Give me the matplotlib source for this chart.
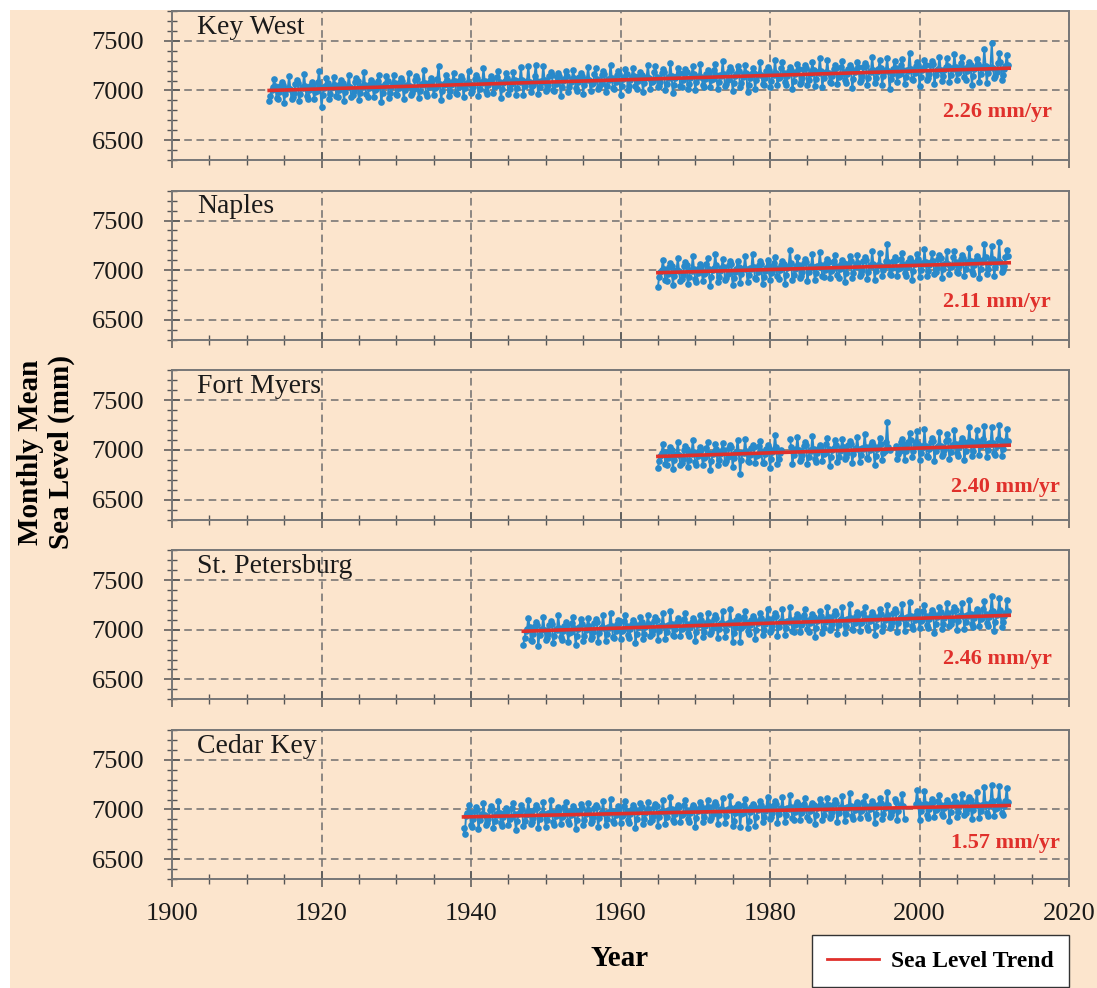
# -*- coding: utf-8 -*-
"""Nivel medio del mar en 5 estaciones de Florida, con tendencia lineal."""
import numpy as np
import matplotlib
matplotlib.use("Agg")
import matplotlib.pyplot as plt
from matplotlib.ticker import MultipleLocator
from matplotlib.lines import Line2D
from matplotlib.patches import Rectangle

nan = np.nan
W, H = 1097, 988
PEACH = "#FCE5CD"; BLUE = "#2889CA"; RED = "#E0302B"; GRID = "#6E6E6E"
plt.rcParams.update({"font.family": "serif", "font.serif": ["Liberation Serif", "DejaVu Serif"]})

# estaciones, inicio de la serie (valores bimestrales: 6 por año) y tendencias
stations = ["Key West", "Naples", "Fort Myers", "St. Petersburg", "Cedar Key"]
start_year = [1913, 1965, 1965, 1947, 1939]
rates = ["2.26 mm/yr", "2.11 mm/yr", "2.40 mm/yr", "2.46 mm/yr", "1.57 mm/yr"]
trend_from = [1913.0, 1965.0, 1965.0, 1947.0, 1939.0]
trend_to = [2012.0, 2012.0, 2012.0, 2012.0, 2012.0]
trend_v0 = [7000, 6975, 6935, 6985, 6925]
trend_v1 = [7224, 7075, 7048, 7145, 7040]

key_west = [
    6890, 6940, 7000, 7030, 7120, 7040, 6920, 6910, 6980, 7050, 7090, 7060,
    6875, 6965, 7015, 7025, 7145, 7015, 6915, 6935, 6975, 7065, 7105, 7075,
    6890, 6960, 7030, 7020, 7170, 7040, 6940, 6910, 7000, 7050, 7090, 7060,
    6915, 6985, 6995, 7085, 7200, 7035, 6830, 6955, 7025, 7045, 7125, 7075,
    6910, 6960, 7020, 7050, 7140, 7060, 6940, 6930, 7000, 7070, 7110, 7080,
    6895, 6985, 7035, 7045, 7160, 7035, 6935, 6955, 6995, 7085, 7125, 7095,
    6905, 6975, 7045, 7035, 7185, 7055, 6960, 6930, 7020, 7070, 7110, 7080,
    6930, 7000, 7010, 7100, 7160, 7050, 6885, 6975, 7045, 7065, 7145, 7095,
    6925, 6975, 7035, 7065, 7155, 7075, 6960, 6950, 7020, 7090, 7130, 7100,
    6910, 7000, 7050, 7060, 7180, 7050, 6955, 6975, 7015, 7105, 7145, 7115,
    6925, 6995, 7065, 7055, 7205, 7075, 6975, 6945, 7035, 7085, 7125, 7095,
    6950, 7020, 7030, 7120, 7250, 7070, 6900, 6990, 7060, 7080, 7160, 7110,
    6945, 6995, 7055, 7085, 7175, 7095, 6975, 6965, 7035, 7105, 7145, 7115,
    6930, 7020, 7070, 7080, 7200, 7070, 6970, 6990, 7030, 7120, 7160, 7130,
    6945, 7015, 7085, 7075, 7225, 7095, 6995, 6965, 7055, 7105, 7145, 7115,
    6970, 7040, 7050, 7140, 7200, 7090, 6920, 7010, 7080, 7100, 7180, 7130,
    6960, 7010, 7070, 7100, 7190, 7110, 6955, 7025, 7095, 7085, 7235, 7105,
    6950, 7040, 7090, 7100, 7250, 7090, 6980, 7050, 7060, 7150, 7260, 7100,
    6960, 7030, 7100, 7090, 7250, 7110, 6995, 7015, 7055, 7145, 7185, 7155,
    7005, 6995, 7065, 7135, 7175, 7145, 6940, 7030, 7100, 7120, 7200, 7150,
    6980, 7030, 7090, 7120, 7210, 7130, 7025, 6995, 7085, 7135, 7175, 7145,
    6965, 7055, 7105, 7115, 7235, 7105, 6995, 7065, 7075, 7165, 7225, 7115,
    7010, 7030, 7070, 7160, 7200, 7170, 6980, 7050, 7120, 7110, 7260, 7130,
    7025, 7015, 7085, 7155, 7195, 7165, 6955, 7045, 7115, 7135, 7215, 7165,
    7000, 7050, 7110, 7140, 7230, 7150, 7040, 7010, 7100, 7150, 7190, 7160,
    6985, 7075, 7125, 7135, 7255, 7125, 7015, 7085, 7095, 7185, 7245, 7135,
    7030, 7050, 7090, 7180, 7220, 7190, 7000, 7070, 7140, 7130, 7280, 7150,
    6970, 7060, 7130, 7150, 7230, 7180, 7045, 7035, 7105, 7175, 7215, 7185,
    7015, 7065, 7125, 7155, 7245, 7165, 7000, 7090, 7140, 7150, 7270, 7140,
    7060, 7030, 7120, 7170, 7210, 7180, 7035, 7105, 7115, 7205, 7265, 7155,
    7015, 7085, 7155, 7145, 7295, 7165, 7050, 7070, 7110, 7200, 7240, 7210,
    6990, 7080, 7150, 7170, 7250, 7200, 7030, 7080, 7140, 7170, 7260, 7180,
    6980, 7060, 7125, 7170, 7230, 7180, 7015, 7105, 7155, 7165, 7285, 7155,
    7070, 7060, 7130, 7200, 7240, 7210, 7030, 7100, 7170, 7160, 7310, 7180,
    7055, 7125, 7135, 7225, 7285, 7175, 7085, 7055, 7145, 7195, 7235, 7205,
    7010, 7100, 7170, 7190, 7270, 7220, 7070, 7090, 7130, 7220, 7260, 7230,
    7055, 7105, 7165, 7195, 7285, 7205, 7045, 7115, 7185, 7175, 7325, 7195,
    7035, 7125, 7175, 7185, 7305, 7175, 7090, 7080, 7150, 7220, 7260, 7230,
    7070, 7140, 7150, 7240, 7300, 7190, 7105, 7075, 7165, 7215, 7255, 7225,
    7025, 7115, 7185, 7205, 7285, 7235, 7090, 7110, 7150, 7240, 7280, 7250,
    7060, 7130, 7200, 7190, 7340, 7210, 7075, 7125, 7185, 7215, 7305, 7225,
    7055, 7145, 7195, 7205, 7325, 7195, 7010, 7120, 7170, 7220, 7300, 7230,
    7090, 7160, 7170, 7260, 7320, 7210, 7070, 7140, 7210, 7200, 7380, 7220,
    7115, 7105, 7175, 7245, 7285, 7255, 7045, 7135, 7205, 7225, 7305, 7255,
    7110, 7130, 7170, 7260, 7300, 7270, 7070, 7160, 7210, 7220, 7340, 7210,
    7095, 7145, 7205, 7235, 7325, 7245, 7085, 7155, 7225, 7215, 7365, 7235,
    7110, 7180, 7190, 7280, 7340, 7230, 7140, 7110, 7200, 7250, 7290, 7260,
    7060, 7150, 7220, 7240, 7320, 7270, 7090, 7170, 7240, 7230, 7420, 7250,
    7080, 7180, 7230, 7240, 7480, 7230, 7130, 7150, 7190, 7280, 7380, 7290,
    7110, 7160, 7220, 7250, 7360, 7260]

naples = [
    6830, 6930, 6985, 7000, 7100, 7010, 6900, 6890, 6960, 7030, 7070, 7040,
    6850, 6940, 6990, 7000, 7120, 6990, 6890, 6910, 6950, 7040, 7080, 7050,
    6865, 6935, 7005, 6995, 7140, 7015, 6915, 6885, 6975, 7025, 7065, 7035,
    6890, 6960, 6970, 7060, 7120, 7010, 6840, 6930, 7000, 7020, 7160, 7050,
    6880, 6930, 6990, 7020, 7110, 7030, 6905, 6925, 6965, 7055, 7095, 7065,
    6850, 6920, 6985, 7015, 7090, 7030, 6870, 6960, 7010, 7020, 7140, 7010,
    6880, 6950, 7020, 7010, 7160, 7030, 6925, 6915, 6985, 7055, 7095, 7065,
    6860, 6930, 6990, 7020, 7100, 7040, 6905, 6975, 6985, 7075, 7135, 7025,
    6940, 6910, 7000, 7050, 7090, 7060, 6860, 6950, 7020, 7040, 7200, 7070,
    6900, 6950, 7010, 7040, 7130, 7050, 6925, 6945, 6985, 7075, 7115, 7085,
    6890, 6980, 7030, 7040, 7160, 7030, 6900, 6970, 7040, 7030, 7180, 7050,
    6940, 6930, 7000, 7070, 7110, 7080, 6920, 6990, 7000, 7090, 7150, 7040,
    6955, 6925, 7015, 7065, 7105, 7075, 6880, 6970, 7040, 7060, 7140, 7090,
    6920, 6970, 7030, 7060, 7150, 7070, 6940, 6960, 7000, 7090, 7130, 7100,
    6915, 6985, 7055, 7045, 7195, 7065, 6905, 6995, 7045, 7055, 7175, 7045,
    6940, 7000, 7040, 7090, 7260, 7080, 6960, 6950, 7020, 7090, 7130, 7100,
    6940, 7010, 7020, 7110, 7170, 7060, 6975, 6945, 7035, 7085, 7125, 7095,
    6900, 6990, 7060, 7080, 7160, 7110, 6930, 7000, 7070, 7060, 7210, 7080,
    6940, 6990, 7050, 7080, 7170, 7090, 6960, 6980, 7020, 7110, 7150, 7120,
    6925, 7015, 7065, 7075, 7195, 7065, 6960, 7030, 7040, 7130, 7190, 7080,
    6980, 6970, 7040, 7110, 7150, 7120, 6940, 7010, 7080, 7070, 7220, 7090,
    6995, 6965, 7055, 7105, 7145, 7115, 6920, 7010, 7080, 7100, 7260, 7130,
    6960, 7010, 7070, 7100, 7240, 7110, 6940, 7030, 7080, 7090, 7280, 7080,
    6980, 7000, 7040, 7130, 7200, 7140]

fort_myers = [
    6820, 6890, 6940, 6970, 7060, 6980, 6860, 6850, 6920, 6990, 7030, 7000,
    6810, 6900, 6950, 6960, 7080, 6950, 6850, 6870, 6910, 7000, 7040, 7010,
    6825, 6895, 6965, 6955, 7100, 6975, 6875, 6845, 6935, 6985, 7025, 6995,
    6850, 6920, 6930, 7020, 7080, 6970, 6800, 6890, 6960, 6980, 7060, 7010,
    6845, 6895, 6955, 6985, 7075, 6995, 6865, 6885, 6925, 7015, 7055, 7025,
    6830, 6920, 6970, 6980, 7100, 6970, 6760, 6900, 6980, 6970, 7110, 6990,
    6885, 6875, 6945, 7015, 7055, 7025, 6865, 6935, 6945, 7035, 7095, 6985,
    6870, 6870, 6960, 7010, 7050, 7020, 6820, 6910, 6980, 7000, 7150, 7030,
    6860, 6910, 6970, 7000, nan, nan, nan, nan, nan, nan, 7110, 7030,
    6860, 6950, 7000, 7010, 7130, 7000, 6890, 6910, 6950, 7040, 7080, 7050,
    6860, 6930, 7000, 6990, 7140, 7010, 6905, 6875, 6965, 7015, 7055, 7025,
    6890, 6960, 6970, 7060, 7120, 7010, 6840, 6930, 7000, 7020, 7100, 7050,
    6880, 6930, 6990, 7020, 7110, 7030, 6905, 6925, 6965, 7055, 7095, 7065,
    6865, 6955, 7005, 7015, 7135, 7005, 6880, 6950, 7020, 7010, 7160, 7030,
    6920, 6910, 7000, 7050, 7080, 7050, 6850, 6940, 7010, 7030, 7120, 7060,
    6900, 6970, 6990, 7080, 7280, 7030, 7000, nan, nan, nan, nan, 7040,
    6910, 6960, 6990, 7080, 7110, 7060, 6900, 6990, 7060, 7080, 7170, 7100,
    6930, 6990, 7050, 7080, 7190, 7060, 6900, 6970, 7040, 7030, 7210, 7040,
    6940, 6930, 7010, 7080, 7120, 7090, 6890, 6990, 7030, 7040, 7180, 7040,
    6940, 6960, 7000, 7090, 7160, 7100, 6910, 6980, 7050, 7040, 7200, 7060,
    6970, 6940, 7030, 7080, 7120, 7090, 6900, 6990, 7060, 7080, 7230, 7090,
    6940, 6990, 7050, 7080, 7200, 7090, 6950, 7040, 7050, 7110, 7240, 7060,
    6930, 7000, 7070, 7060, 7230, 7070, 6970, 6950, 7040, 7110, 7250, 7100,
    6940, 7010, 7070, 7090, 7210, 7090]

st_petersburg = [
    6850, 6920, 6990, 7010, 7120, 7030, 6900, 6890, 6960, 7040, 7080, 7050,
    6840, 6950, 7000, 7010, 7130, 7000, 6900, 6920, 6960, 7050, 7090, 7060,
    6870, 6940, 7010, 7000, 7150, 7020, 6930, 6900, 6990, 7040, 7080, 7050,
    6880, 6970, 6980, 7070, 7130, 7020, 6850, 6940, 7010, 7030, 7110, 7060,
    6890, 6940, 7000, 7030, 7120, 7040, 6910, 6930, 6980, 7070, 7110, 7080,
    6880, 6970, 7020, 7030, 7150, 7020, 6890, 6960, 7030, 7020, 7170, 7040,
    6930, 6920, 6990, 7060, 7100, 7070, 6910, 6990, 7000, 7090, 7150, 7040,
    6950, 6920, 7010, 7060, 7100, 7070, 6870, 6960, 7030, 7050, 7130, 7080,
    6910, 6960, 7030, 7050, 7150, 7060, 6940, 6960, 7000, 7090, 7130, 7100,
    6900, 6990, 7040, 7050, 7170, 7040, 6910, 6980, 7050, 7040, 7190, 7060,
    6950, 6940, 7010, 7080, 7120, 7090, 6940, 7010, 7020, 7110, 7170, 7060,
    6970, 6940, 7030, 7080, 7120, 7090, 6890, 6980, 7050, 7070, 7150, 7100,
    6930, 6980, 7040, 7070, 7170, 7080, 6960, 6980, 7020, 7110, 7150, 7120,
    6920, 7010, 7060, 7070, 7190, 7060, 6930, 7000, 7070, 7060, 7210, 7080,
    6880, 6970, 7030, 7100, 7140, 7110, 6880, 7020, 7040, 7130, 7190, 7080,
    6990, 6960, 7050, 7100, 7140, 7110, 6910, 7000, 7070, 7090, 7170, 7120,
    6950, 7000, 7060, 7090, 7210, 7110, 6980, 7000, 7040, 7130, 7170, 7140,
    6940, 7030, 7080, 7090, 7210, 7080, 6950, 7020, 7090, 7080, 7230, 7100,
    6990, 6980, 7050, 7120, 7160, 7130, 6980, 7050, 7060, 7150, 7210, 7100,
    7010, 6980, 7070, 7120, 7160, 7130, 6930, 7020, 7090, 7110, 7190, 7140,
    6970, 7020, 7080, 7110, 7230, 7130, 7000, 7020, 7060, 7150, 7190, 7160,
    6960, 7050, 7100, 7110, 7230, 7100, 6970, 7040, 7110, 7100, 7260, 7120,
    7010, 7000, 7070, 7140, 7180, 7150, 6990, 7070, 7080, 7170, 7230, 7120,
    7030, 7000, 7090, 7140, 7180, 7150, 6950, 7040, 7110, 7130, 7210, 7160,
    6990, 7040, 7100, 7130, 7250, 7150, 7020, 7040, 7080, 7170, 7210, 7180,
    6980, 7070, 7120, 7130, 7260, 7120, 6990, 7060, 7130, 7120, 7280, 7140,
    7040, 7010, 7100, 7150, 7190, 7160, 7020, 7090, 7100, 7190, 7250, 7140,
    7050, 7020, 7110, 7160, 7200, 7170, 6970, 7060, 7130, 7150, 7230, 7180,
    7010, 7060, 7120, 7150, 7270, 7170, 7040, 7060, 7100, 7190, 7230, 7200,
    7000, 7090, 7140, 7150, 7270, 7140, 7010, 7080, 7150, 7140, 7300, 7160,
    7060, 7030, 7120, 7170, 7210, 7180, 7040, 7110, 7120, 7210, 7290, 7160,
    7070, 7040, 7130, 7180, 7340, 7190, 6990, 7080, 7150, 7170, 7320, 7200,
    7030, 7080, 7140, 7170, 7300, 7190]

cedar_key = [
    6810, 6750, 6930, 6960, 7040, 6970, 6840, 6820, 6900, 6980, 7020, 6990,
    6800, 6890, 6940, 6950, 7070, 6940, 6840, 6860, 6900, 6990, 7030, 7000,
    6810, 6880, 6950, 6940, 7090, 6960, 6860, 6830, 6920, 6970, 7010, 6980,
    6840, 6900, 6920, 7010, 7070, 6950, 6790, 6880, 6950, 6970, 7050, 7000,
    6830, 6880, 6940, 6970, 7100, 6980, 6850, 6870, 6910, 7000, 7040, 7010,
    6810, 6900, 6950, 6960, 7080, 6950, 6820, 6890, 6960, 6950, 7100, 6970,
    6870, 6840, 6930, 6980, 7020, 6990, 6850, 6920, 6930, 7020, 7080, 6970,
    6880, 6850, 6940, 6990, 7030, 7000, 6800, 6890, 6960, 6980, 7060, 7010,
    6840, 6890, 6950, 6980, 7070, 6990, 6860, 6880, 6920, 7010, 7050, 7020,
    6820, 6910, 6960, 6970, 7090, 6960, 6840, 6900, 6970, 6960, 7110, 6980,
    6880, 6860, 6940, 6990, 7030, 7000, 6860, 6930, 6940, 7030, 7090, 6980,
    6890, 6860, 6950, 7000, 7040, 7010, 6810, 6900, 6970, 6990, 7070, 7020,
    6850, 6900, 6960, 6990, 7080, 7000, 6870, 6890, 6930, 7020, 7060, 7030,
    6830, 6920, 6970, 6980, 7100, 6970, 6850, 6920, 6990, 6980, 7130, 7000,
    6890, 6870, 6950, 7010, 7050, 7020, 6870, 6940, 6950, 7040, 7100, 6990,
    6900, 6870, 6960, 7010, 7050, 7020, 6820, 6910, 6980, 7000, 7080, 7030,
    6870, 6920, 6980, 7010, 7100, 7020, 6890, 6910, 6950, 7040, 7080, 7050,
    6850, 6940, 6990, 7000, 7120, 6990, 6860, 6930, 7000, 6990, 7140, 7010,
    6830, 6880, 6960, 7020, 7060, 7030, 6820, 6950, 6960, 7050, 7110, 7000,
    6810, 6880, 6970, 7020, 7060, 7030, 6830, 6920, 6990, 7010, 7090, 7040,
    6870, 6920, 6980, 7010, 7130, 7030, 6900, 6920, 6960, 7050, 7090, 7060,
    6860, 6950, 7000, 7010, 7130, 7000, 6870, 6940, 7010, 7000, 7150, 7020,
    6910, 6890, 6970, 7040, 7080, 7050, 6890, 6960, 6970, 7060, 7120, 7010,
    6920, 6890, 6980, 7030, 7070, 7040, 6850, 6940, 7010, 7030, 7110, 7060,
    6890, 6940, 7000, 7030, 7120, 7040, 6910, 6930, 6970, 7060, 7100, 7070,
    6870, 6960, 7010, 7020, 7140, 7010, 6880, 6950, 7020, 7010, 7170, 7030,
    6930, 6900, 6990, 7040, 7080, 7050, 6910, 6980, 6990, 7080, 7140, 7030,
    6940, 6910, 7000, 7050, 7090, 7060, 6860, 6950, 7020, 7040, 7120, 7070,
    6900, 6950, 7010, 7040, 7180, 7050, 6920, 6940, 6980, nan, 7110, 7080,
    6890, 6980, 7030, 7040, 7160, 7030, 6900, nan, nan, nan, nan, nan,
    nan, nan, nan, 7060, 7200, 7080, 6890, 6980, 7050, 7040, 7190, 7060,
    6940, 6910, 7000, 7070, 7110, 7080, 6920, 6990, 7000, 7090, 7150, 7040,
    6950, 6930, 7010, 7060, 7100, 7070, 6880, 6970, 7040, 7060, 7140, 7080,
    6920, 6970, 7030, 7060, 7160, 7070, 6940, 6960, 7000, 7090, 7130, 7100,
    6900, 6990, 7040, 7050, 7180, 7040, 6910, 6980, 7050, 7040, 7230, 7060,
    6960, 6930, 7030, 7080, 7250, 7090, 6930, 7000, 7010, 7100, 7240, 7060,
    6960, 6940, 7030, 7090, 7220, 7080]

series = [key_west, naples, fort_myers, st_petersburg, cedar_key]
# posicion (ejes) de la etiqueta de tasa en cada panel
rate_pos = [(0.920, 0.32), (0.920, 0.255), (0.929, 0.215), (0.920, 0.27), (0.929, 0.24)]

fig = plt.figure(figsize=(W / 100, H / 100), dpi=100, facecolor="white")
fig.add_artist(Rectangle((10 / W, 0), 1, 1 - 10 / H, transform=fig.transFigure,
                         facecolor=PEACH, edgecolor="none", zorder=-10))

for i, (name, y0, vals) in enumerate(zip(stations, start_year, series)):
    top = 11 + i * 179.75
    ax = fig.add_axes([172 / W, 1 - (top + 149) / H, 897 / W, 149 / H], facecolor=PEACH)
    v = np.array(vals, dtype=float)
    x = y0 + np.arange(len(v)) / 6
    ax.plot(x, v, "-o", color=BLUE, ms=4.8, lw=1.4, mew=0, zorder=3)
    ax.plot([trend_from[i], trend_to[i]], [trend_v0[i], trend_v1[i]], color=RED, lw=2.6, zorder=4)
    ax.set_xlim(1900, 2020); ax.set_ylim(6300, 7800)
    ax.xaxis.set_major_locator(MultipleLocator(20)); ax.xaxis.set_minor_locator(MultipleLocator(5))
    ax.yaxis.set_major_locator(MultipleLocator(500)); ax.yaxis.set_minor_locator(MultipleLocator(100))
    ax.grid(True, which="major", ls=(0, (5, 3)), color=GRID, lw=1.1, zorder=1)
    ax.tick_params(which="both", direction="inout", color="#555555", labelcolor="#1a1a1a", labelsize=19)
    ax.tick_params(which="major", length=12, width=1.1)
    ax.tick_params(which="minor", length=7, width=1.0)
    ax.tick_params(axis="y", pad=14); ax.tick_params(axis="x", pad=11)
    for s in ax.spines.values():
        s.set_color("#777777"); s.set_linewidth(1.4)
    if i < 4:
        ax.tick_params(labelbottom=False)
    ax.text(0.028, 0.975, name, transform=ax.transAxes, va="top", ha="left", fontsize=20, color="#1a1a1a")
    ax.text(*rate_pos[i], rates[i], transform=ax.transAxes, ha="center", va="center",
            color=RED, fontsize=16, fontweight="bold")

fig.text(620 / W, 1 - 958 / H, "Year", ha="center", va="center", fontsize=21, fontweight="bold")
fig.text(46 / W, 1 - 452 / H, "Monthly Mean\nSea Level (mm)", rotation=90, ha="center", va="center",
         fontsize=21, fontweight="bold", linespacing=1.15)
fig.legend(handles=[Line2D([], [], color=RED, lw=2)], labels=["Sea Level Trend"], loc="upper left",
           bbox_to_anchor=(812 / W, 1 - 935 / H), frameon=True, fancybox=False, edgecolor="#333333",
           facecolor="white", framealpha=1, prop=dict(weight="bold", size=17), handlelength=2.2,
           handletextpad=0.5, borderpad=0.65, borderaxespad=0)

fig.savefig("out.png", dpi=100)
